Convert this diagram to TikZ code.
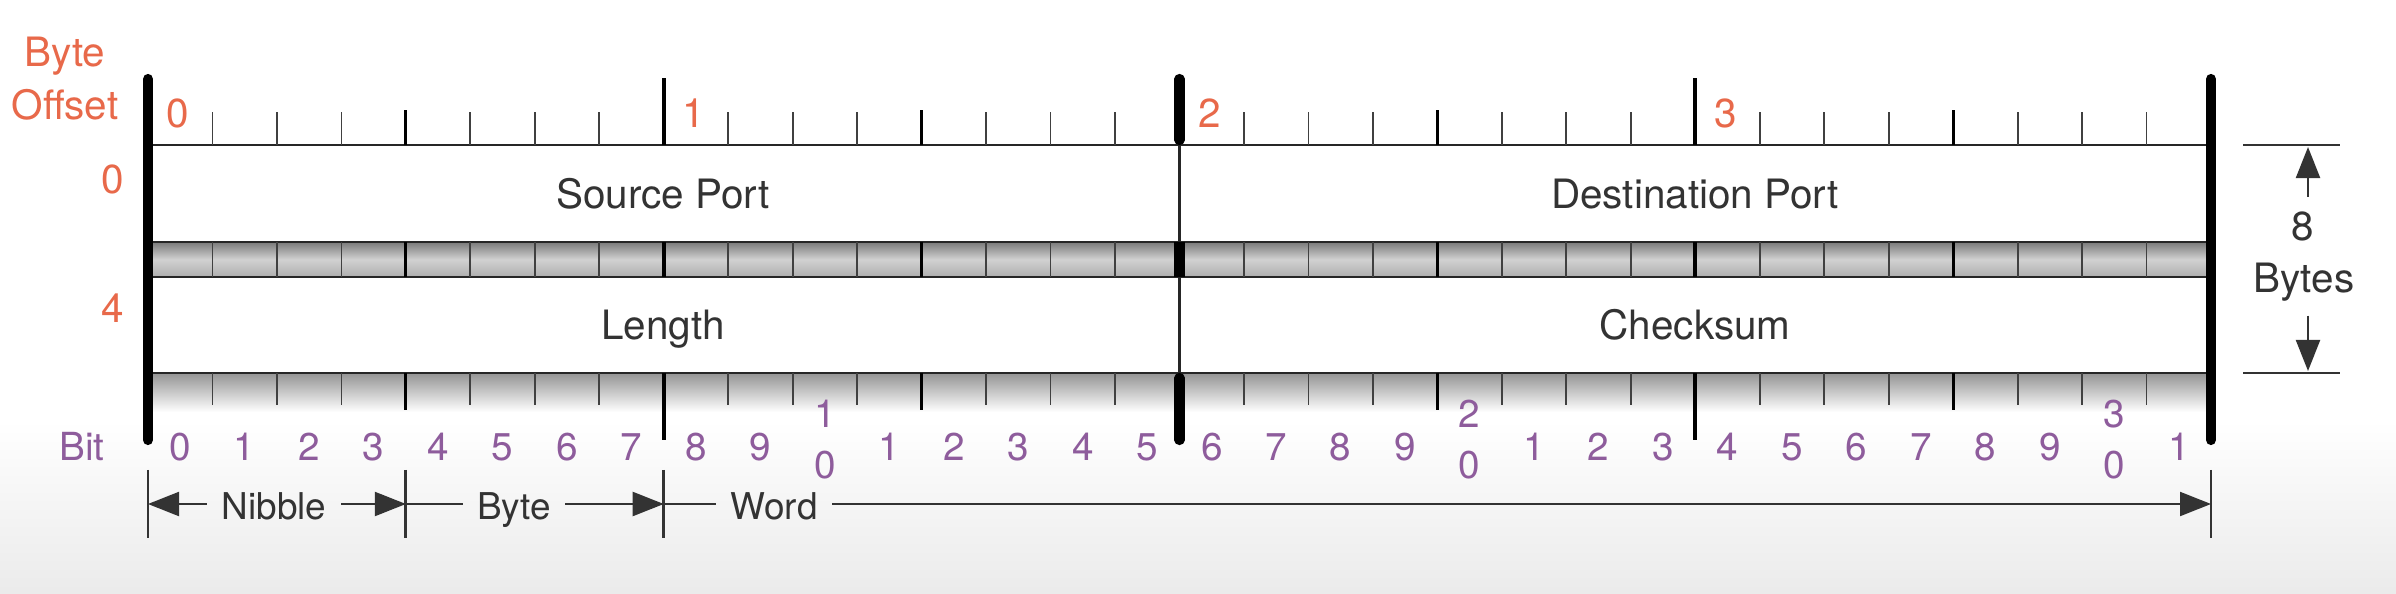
\documentclass[tikz,border=0pt]{standalone}
\usepackage{fontspec}
\setmainfont{TeX Gyre Heros}
\usetikzlibrary{arrows.meta}
\definecolor{offc}{HTML}{E8694A}
\definecolor{bitc}{HTML}{8E5C9C}
\definecolor{txt}{HTML}{333333}
\begin{document}
\begin{tikzpicture}[x=0.01cm,y=-0.01cm,
  fieldlab/.style={font=\fontsize{11.5}{13}\selectfont, text=txt, inner sep=0pt, anchor=base},
  dimlab/.style={font=\fontsize{10.5}{12}\selectfont, text=txt, inner xsep=4pt, inner ysep=0pt, anchor=base},
  sizelab/.style={font=\fontsize{11.5}{13}\selectfont, text=txt, inner xsep=0pt, inner ysep=4pt, anchor=base},
  offlab/.style={font=\fontsize{11.5}{13}\selectfont, text=offc, inner sep=0pt, anchor=base},
  bitlab/.style={font=\fontsize{11}{13}\selectfont, text=bitc, inner sep=0pt, anchor=base},
  rowline/.style={draw=black!85, line width=0.7pt},
  bittick/.style={draw=black!75, line width=0.5pt},
  nibtick/.style={draw=black, line width=0.85pt},
  bytetick/.style={draw=black, line width=1.2pt},
  wordbar/.style={draw=black, line width=2.9pt},
  dimline/.style={draw=black!80, line width=0.6pt},
  dimarrow/.style={draw=black!80, line width=0.6pt, -{Triangle[length=0.31cm,width=0.24cm]}},
]
\useasboundingbox (0,0) rectangle (2396,594);
\fill[white] (0,0) rectangle (2396,420);
\fill[top color=white, bottom color=black!8] (0,420) rectangle (2396,594);

\def\L{148}
\def\R{2211}
\def\W{64.47}

% bands
\fill[top color=black!52, bottom color=black!32, middle color=black!18] (\L,242) rectangle (\R,277);
\fill[top color=black!42, bottom color=white] (\L,373) rectangle (\R,412);
% rows
\draw[rowline, fill=white] (\L,145) rectangle (\R,242);
\draw[rowline, fill=white] (\L,277) rectangle (\R,373);

% bit ticks
\foreach \j in {1,2,3,5,6,7,9,10,11,13,14,15,17,18,19,21,22,23,25,26,27,29,30,31} {
  \draw[bittick] (\L+\j*\W,112) -- (\L+\j*\W,145)
                 (\L+\j*\W,242) -- (\L+\j*\W,277)
                 (\L+\j*\W,373) -- (\L+\j*\W,405);
}
\foreach \j in {4,12,20,28} {
  \draw[nibtick] (\L+\j*\W,110) -- (\L+\j*\W,145)
                 (\L+\j*\W,242) -- (\L+\j*\W,277)
                 (\L+\j*\W,373) -- (\L+\j*\W,410);
}
\foreach \j in {8,24} {
  \draw[bytetick] (\L+\j*\W,78) -- (\L+\j*\W,145)
                  (\L+\j*\W,242) -- (\L+\j*\W,277)
                  (\L+\j*\W,373) -- (\L+\j*\W,440);
}
% word bars
\draw[wordbar, line cap=round] (\L,79) -- (\L,440);
\draw[wordbar, line cap=round] (\R,79) -- (\R,440);
\draw[rowline] (\L+16*\W,145) -- (\L+16*\W,373);
\draw[wordbar, line cap=round] (\L+16*\W,79) -- (\L+16*\W,140);
\draw[wordbar] (\L+16*\W,242) -- (\L+16*\W,277);
\draw[wordbar, line cap=round] (\L+16*\W,378) -- (\L+16*\W,440);

% field labels
\node[fieldlab] (src) at (663,208) {Source Port};
\node[fieldlab] (dst) at (1695,208) {Destination Port};
\node[fieldlab] (len) at (663,339) {Length};
\node[fieldlab] (chk) at (1695,339) {Checksum};

% byte offset labels
\node[offlab] (bo1) at (65,67) {Byte};
\node[offlab] (bo2) at (65,120) {Offset};
\node[offlab] (r0) at (113,193) {0};
\node[offlab] (r4) at (113,322) {4};
\foreach \k in {0,1,2,3} {
  \node[offlab] (byte\k) at (178+\k*8*\W,127) {\k};
}

% bit labels
\node[bitlab] (bitword) at (82,460) {Bit};
\foreach \i in {0,...,9,11,12,...,19,21,22,...,29,31} {
  \pgfmathtruncatemacro\d{mod(\i,10)}
  \node[bitlab] (bit\i) at (\L+\i*\W+\W/2,460) {\d};
}
\foreach \i/\t in {10/1,20/2,30/3} {
  \node[bitlab] (bitt\i) at (\L+\i*\W+\W/2,427) {\t};
  \node[bitlab] (bito\i) at (\L+\i*\W+\W/2,478) {0};
}

% bottom dimension
\coordinate (d0) at (\L,504);
\coordinate (d1) at (\L+4*\W,504);
\coordinate (d2) at (\L+8*\W,504);
\coordinate (d3) at (\R,504);
\foreach \c in {d0,d1,d2,d3} {
  \draw[dimline, line width=0.8pt] ([yshift=0.34cm]\c) -- ([yshift=-0.34cm]\c);
}
\node[dimlab] (nib) at (274,519) {Nibble};
\node[dimlab] (byt) at (514,519) {Byte};
\node[dimlab] (wrd) at (774,519) {Word};
\draw[dimarrow] (nib.west |- d0) -- (d0);
\draw[dimarrow] (nib.east |- d0) -- (d1);
\draw[dimline] (d1) -- (byt.west |- d1);
\draw[dimarrow] (byt.east |- d1) -- (d2);
\draw[dimline] (d2) -- (wrd.west |- d2);
\draw[dimarrow] (wrd.east |- d2) -- (d3);

% right size dimension
\coordinate (s1) at (2243,145);
\coordinate (s2) at (2340,145);
\coordinate (s3) at (2243,373);
\coordinate (s4) at (2340,373);
\draw[dimline] (s1) -- (s2);
\draw[dimline] (s3) -- (s4);
\coordinate (up) at (2308,147);
\coordinate (dn) at (2308,371);
\node[sizelab] (eight) at (2303,240) {8};
\node[sizelab] (bytes) at (2304,292) {Bytes};
\draw[dimarrow] (eight.north -| up) -- (up);
\draw[dimarrow] (bytes.south -| dn) -- (dn);
\end{tikzpicture}
\end{document}
